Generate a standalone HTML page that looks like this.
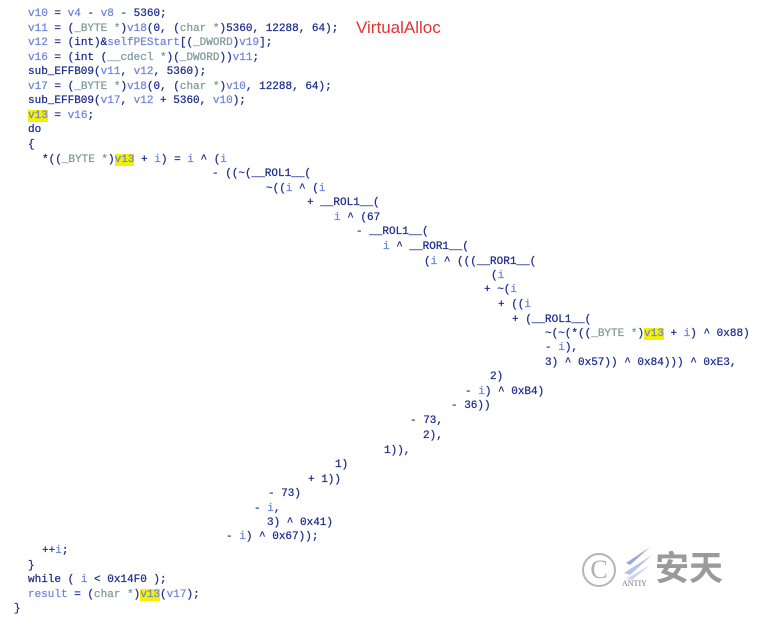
<!DOCTYPE html>
<html><head><meta charset="utf-8"><style>
html,body{margin:0;padding:0;background:#fff;width:775px;height:628px;overflow:hidden}
.l{position:absolute;font-family:"Liberation Mono",monospace;font-size:11px;line-height:14px;white-space:pre;color:#1c2c8c;-webkit-text-stroke:0.25px currentColor}
.v{color:#6f86d8}
.t{color:#7f9a9a}
.h{background:#f5f000;color:#6f86d8}
</style></head><body>
<div class="l" style="left:28px;top:7px"><span class="v">v10</span> = <span class="v">v4</span> - <span class="v">v8</span> - 5360;</div>
<div class="l" style="left:28px;top:22px"><span class="v">v11</span> = (<span class="t">_BYTE *</span>)<span class="v">v18</span>(0, (<span class="t">char *</span>)5360, 12288, 64);</div>
<div style="position:absolute;left:356px;top:18px;font-family:'Liberation Sans',sans-serif;font-size:17px;color:#e03535">VirtualAlloc</div>
<div class="l" style="left:28px;top:36px"><span class="v">v12</span> = (int)&amp;<span class="v">selfPEStart</span>[(<span class="t">_DWORD</span>)<span class="v">v19</span>];</div>
<div class="l" style="left:28px;top:51px"><span class="v">v16</span> = (int (<span class="t">__cdecl *</span>)(<span class="t">_DWORD</span>))<span class="v">v11</span>;</div>
<div class="l" style="left:28px;top:65px">sub_EFFB09(<span class="v">v11</span>, <span class="v">v12</span>, 5360);</div>
<div class="l" style="left:28px;top:80px"><span class="v">v17</span> = (<span class="t">_BYTE *</span>)<span class="v">v18</span>(0, (<span class="t">char *</span>)<span class="v">v10</span>, 12288, 64);</div>
<div class="l" style="left:28px;top:94px">sub_EFFB09(<span class="v">v17</span>, <span class="v">v12</span> + 5360, <span class="v">v10</span>);</div>
<div class="l" style="left:28px;top:109px"><span class="h">v13</span> = <span class="v">v16</span>;</div>
<div class="l" style="left:28px;top:123px">do</div>
<div class="l" style="left:28px;top:138px">{</div>
<div class="l" style="left:42px;top:153px">*((<span class="t">_BYTE *</span>)<span class="h">v13</span> + <span class="v">i</span>) = <span class="v">i</span> ^ (<span class="v">i</span></div>
<div class="l" style="left:212px;top:167px">- ((~(__ROL1__(</div>
<div class="l" style="left:266px;top:182px">~((<span class="v">i</span> ^ (<span class="v">i</span></div>
<div class="l" style="left:307px;top:196px">+ __ROL1__(</div>
<div class="l" style="left:334px;top:211px"><span class="v">i</span> ^ (67</div>
<div class="l" style="left:356px;top:225px">- __ROL1__(</div>
<div class="l" style="left:383px;top:240px"><span class="v">i</span> ^ __ROR1__(</div>
<div class="l" style="left:424px;top:255px">(<span class="v">i</span> ^ (((__ROR1__(</div>
<div class="l" style="left:491px;top:269px">(<span class="v">i</span></div>
<div class="l" style="left:484px;top:283px">+ ~(<span class="v">i</span></div>
<div class="l" style="left:498px;top:298px">+ ((<span class="v">i</span></div>
<div class="l" style="left:512px;top:313px">+ (__ROL1__(</div>
<div class="l" style="left:545px;top:327px">~(~(*((<span class="t">_BYTE *</span>)<span class="h">v13</span> + <span class="v">i</span>) ^ 0x88)</div>
<div class="l" style="left:545px;top:341px">- <span class="v">i</span>),</div>
<div class="l" style="left:545px;top:356px">3) ^ 0x57)) ^ 0x84))) ^ 0xE3,</div>
<div class="l" style="left:490px;top:370px">2)</div>
<div class="l" style="left:465px;top:385px">- <span class="v">i</span>) ^ 0xB4)</div>
<div class="l" style="left:451px;top:399px">- 36))</div>
<div class="l" style="left:410px;top:414px">- 73,</div>
<div class="l" style="left:423px;top:429px">2),</div>
<div class="l" style="left:384px;top:444px">1)),</div>
<div class="l" style="left:335px;top:458px">1)</div>
<div class="l" style="left:308px;top:473px">+ 1))</div>
<div class="l" style="left:268px;top:487px">- 73)</div>
<div class="l" style="left:254px;top:502px">- <span class="v">i</span>,</div>
<div class="l" style="left:267px;top:516px">3) ^ 0x41)</div>
<div class="l" style="left:226px;top:530px">- <span class="v">i</span>) ^ 0x67));</div>
<div class="l" style="left:42px;top:544px">++<span class="v">i</span>;</div>
<div class="l" style="left:28px;top:559px">}</div>
<div class="l" style="left:28px;top:573px">while ( <span class="v">i</span> &lt; 0x14F0 );</div>
<div class="l" style="left:28px;top:588px"><span class="v">result</span> = (<span class="t">char *</span>)<span class="h">v13</span>(<span class="v">v17</span>);</div>
<div class="l" style="left:14px;top:602px">}</div>
<div style="position:absolute;left:582px;top:553px;width:30px;height:30px;border:2px solid #b5b5b5;border-radius:50%;font-family:'Liberation Serif',serif;font-size:26px;line-height:30px;text-align:center;color:#b0b0b0">C</div>
<svg style="position:absolute;left:620px;top:545px" width="36" height="42">
<path d="M30 2 L6 18 L10 20 Z" fill="#9aa8d8"/><path d="M32 10 L4 28 L10 30 Z" fill="#b8c4e6"/><path d="M30 20 L6 34 L12 35 Z" fill="#cdd6ef"/>
<text x="2" y="41" font-family="Liberation Serif" font-size="8" fill="#777">ANTIY</text></svg>
<div style="position:absolute;left:655px;top:546px;font-family:'Noto Sans CJK SC',sans-serif;font-weight:bold;font-size:34px;line-height:40px;color:#9a9a9a">安天</div>
</body></html>
